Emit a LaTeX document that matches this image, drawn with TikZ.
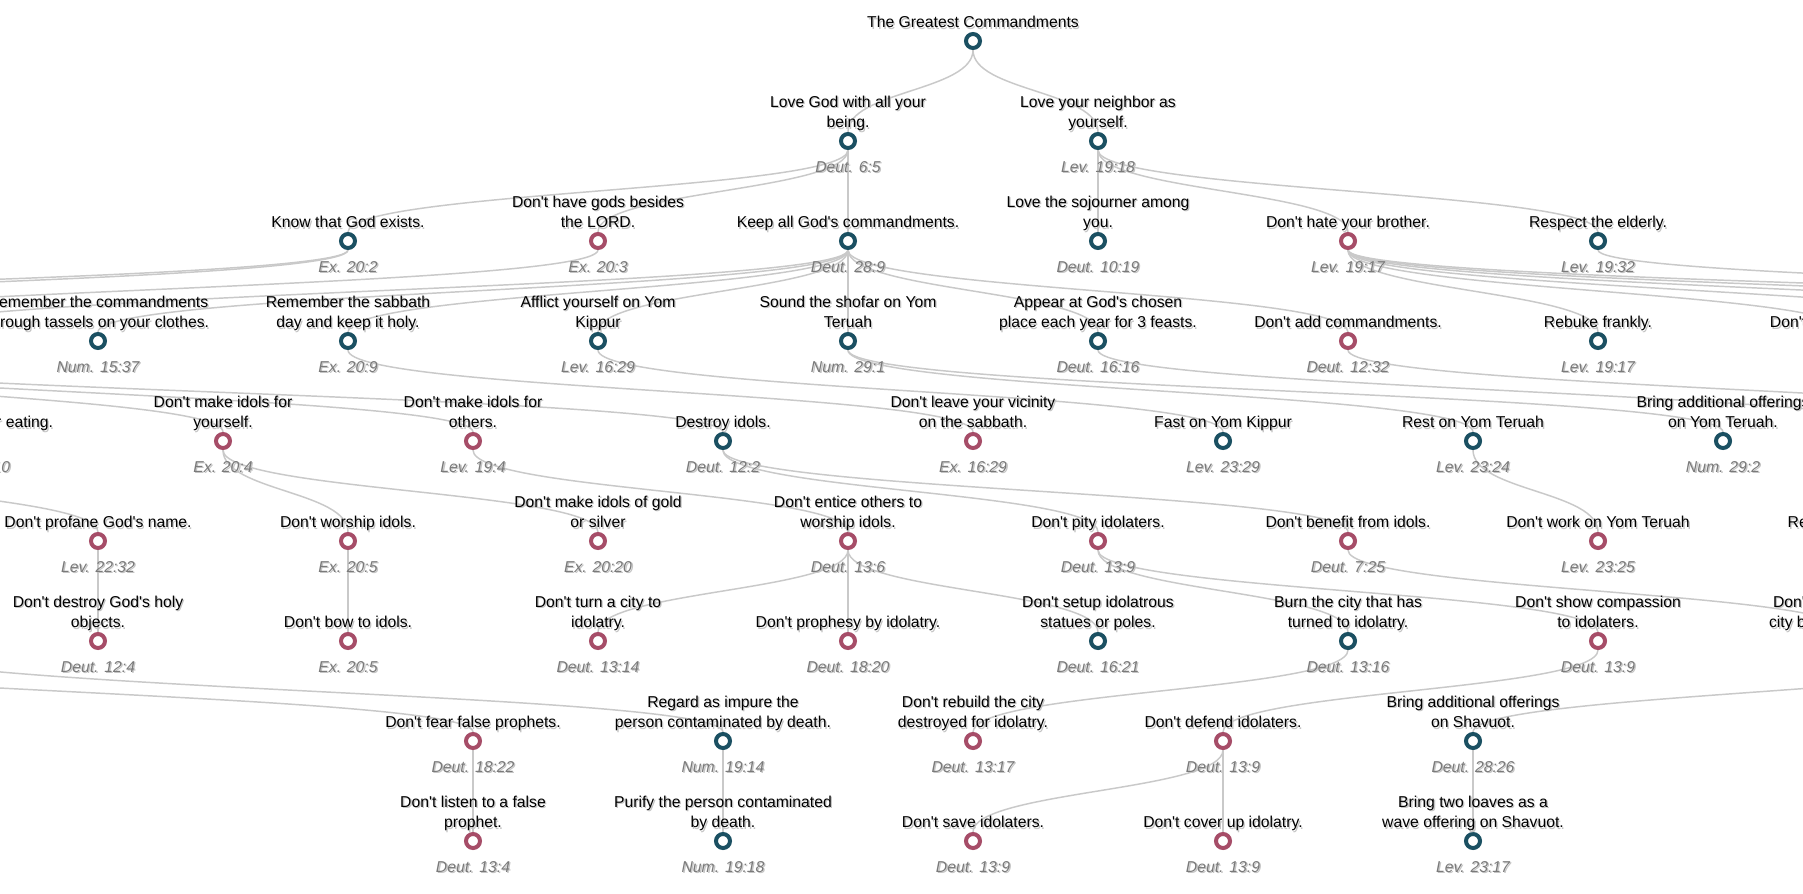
\documentclass[tikz,border=0pt]{standalone}
\usepackage{fontspec}
\newfontfamily\lbfont{Liberation Sans}
\definecolor{tealc}{HTML}{1B5062}
\definecolor{rosec}{HTML}{A64D68}
\definecolor{linec}{HTML}{C9C9C9}
\definecolor{refc}{HTML}{7A7A7A}
\definecolor{shc}{HTML}{C4C4C4}
\pgfdeclarelayer{bg}
\pgfdeclarelayer{edges}
\pgfsetlayers{bg,edges,main}
\newcommand{\cmd}[6]{%
  \node[cmdot=#4] (#1) at (#2,#3) {};
  \node[lbl, text=shc] (#1-ts) at (#2+1.3,#3-11.7) {#5};
  \node[lbl] (#1-t) at (#2,#3-13) {#5};
  \node[refl, text=shc] (#1-rs) at (#2+1.3,#3+32.3) {#6};
  \node[refl] (#1-r) at (#2,#3+31) {#6};}
\newcommand{\lnk}[2]{\draw[lnkline] (#1) .. controls +(0,50) and +(0,-50) .. (#2);}
\begin{document}
\begin{tikzpicture}[x=0.75pt,y=-0.75pt,
  cmdot/.style={circle, draw=#1, fill=white, line width=3pt, minimum size=10.5pt, inner sep=0pt},
  lbl/.style={anchor=south, inner sep=0pt, text depth=0pt, align=center, font=\lbfont\fontsize{11.8}{15.2}\selectfont, text=black},
  refl/.style={anchor=base, inner sep=0pt, font=\lbfont\itshape\fontsize{11.8}{15.2}\selectfont, text=refc},
  lnkline/.style={draw=linec, line width=1.1pt}]
\useasboundingbox (0,0) rectangle (1803,893);
\begin{pgfonlayer}{bg}\fill[white] (0,0) rectangle (1803,893);\end{pgfonlayer}
% row 0
\node[cmdot=tealc] (root) at (973,41) {};
\node[lbl, text=shc] (root-ts) at (974.3,29.3) {The Greatest Commandments};
\node[lbl] (root-t) at (973,28) {The Greatest Commandments};
% row 1
\cmd{lovegod}{848}{141}{tealc}{Love God with all your\\being.}{Deut. 6:5}
\cmd{loveneigh}{1098}{141}{tealc}{Love your neighbor as\\yourself.}{Lev. 19:18}
% row 2
\cmd{knowgod}{348}{241}{tealc}{Know that God exists.}{Ex. 20:2}
\cmd{nogods}{598}{241}{rosec}{Don't have gods besides\\the LORD.}{Ex. 20:3}
\cmd{keepall}{848}{241}{tealc}{Keep all God's commandments.}{Deut. 28:9}
\cmd{sojourn}{1098}{241}{tealc}{Love the sojourner among\\you.}{Deut. 10:19}
\cmd{nohate}{1348}{241}{rosec}{Don't hate your brother.}{Lev. 19:17}
\cmd{elderly}{1598}{241}{tealc}{Respect the elderly.}{Lev. 19:32}
% row 3
\cmd{tassels}{98}{341}{tealc}{Remember the commandments\\through tassels on your clothes.}{Num. 15:37}
\cmd{sabbath}{348}{341}{tealc}{Remember the sabbath\\day and keep it holy.}{Ex. 20:9}
\cmd{afflict}{598}{341}{tealc}{Afflict yourself on Yom\\Kippur}{Lev. 16:29}
\cmd{shofar}{848}{341}{tealc}{Sound the shofar on Yom\\Teruah}{Num. 29:1}
\cmd{appear}{1098}{341}{tealc}{Appear at God's chosen\\place each year for 3 feasts.}{Deut. 16:16}
\cmd{noadd}{1348}{341}{rosec}{Don't add commandments.}{Deut. 12:32}
\cmd{rebuke}{1598}{341}{tealc}{Rebuke frankly.}{Lev. 19:17}
\cmd{revenge}{1848}{341}{rosec}{Don't take vengeance.}{Lev. 19:18}
% row 4
\cmd{blessgod}{-27}{441}{tealc}{Bless God after eating.}{Deut. 8:10}
\cmd{idolself}{223}{441}{rosec}{Don't make idols for\\yourself.}{Ex. 20:4}
\cmd{idolothers}{473}{441}{rosec}{Don't make idols for\\others.}{Lev. 19:4}
\cmd{destroy}{723}{441}{tealc}{Destroy idols.}{Deut. 12:2}
\cmd{noleave}{973}{441}{rosec}{Don't leave your vicinity\\on the sabbath.}{Ex. 16:29}
\cmd{fastyk}{1223}{441}{tealc}{Fast on Yom Kippur}{Lev. 23:29}
\cmd{restyt}{1473}{441}{tealc}{Rest on Yom Teruah}{Lev. 23:24}
\cmd{offeryt}{1723}{441}{tealc}{Bring additional offerings\\on Yom Teruah.}{Num. 29:2}
% row 5
\cmd{profane}{98}{541}{rosec}{Don't profane God's name.}{Lev. 22:32}
\cmd{worship}{348}{541}{rosec}{Don't worship idols.}{Ex. 20:5}
\cmd{gold}{598}{541}{rosec}{Don't make idols of gold\\or silver}{Ex. 20:20}
\cmd{entice}{848}{541}{rosec}{Don't entice others to\\worship idols.}{Deut. 13:6}
\cmd{pity}{1098}{541}{rosec}{Don't pity idolaters.}{Deut. 13:9}
\cmd{benefit}{1348}{541}{rosec}{Don't benefit from idols.}{Deut. 7:25}
\cmd{workyt}{1598}{541}{rosec}{Don't work on Yom Teruah}{Lev. 23:25}
\cmd{restshav}{1848}{541}{tealc}{Rest on Shavuot.}{Lev. 23:21}
% row 6
\cmd{holy}{98}{641}{rosec}{Don't destroy God's holy\\objects.}{Deut. 12:4}
\cmd{bow}{348}{641}{rosec}{Don't bow to idols.}{Ex. 20:5}
\cmd{turncity}{598}{641}{rosec}{Don't turn a city to\\idolatry.}{Deut. 13:14}
\cmd{prophesy}{848}{641}{rosec}{Don't prophesy by idolatry.}{Deut. 18:20}
\cmd{setup}{1098}{641}{tealc}{Don't setup idolatrous\\statues or poles.}{Deut. 16:21}
\cmd{burn}{1348}{641}{tealc}{Burn the city that has\\turned to idolatry.}{Deut. 13:16}
\cmd{compassion}{1598}{641}{rosec}{Don't show compassion\\to idolaters.}{Deut. 13:9}
\cmd{cityb}{1848}{641}{rosec}{Don't benefit from the\\city burned for idolatry.}{Deut. 13:17}
% row 7
\cmd{fearproph}{473}{741}{rosec}{Don't fear false prophets.}{Deut. 18:22}
\cmd{impure}{723}{741}{tealc}{Regard as impure the\\person contaminated by death.}{Num. 19:14}
\cmd{rebuild}{973}{741}{rosec}{Don't rebuild the city\\destroyed for idolatry.}{Deut. 13:17}
\cmd{defend}{1223}{741}{rosec}{Don't defend idolaters.}{Deut. 13:9}
\cmd{offershav}{1473}{741}{tealc}{Bring additional offerings\\on Shavuot.}{Deut. 28:26}
% row 8
\cmd{listen}{473}{841}{rosec}{Don't listen to a false\\prophet.}{Deut. 13:4}
\cmd{purify}{723}{841}{tealc}{Purify the person contaminated\\by death.}{Num. 19:18}
\cmd{save}{973}{841}{rosec}{Don't save idolaters.}{Deut. 13:9}
\cmd{cover}{1223}{841}{rosec}{Don't cover up idolatry.}{Deut. 13:9}
\cmd{loaves}{1473}{841}{tealc}{Bring two loaves as a\\wave offering on Shavuot.}{Lev. 23:17}
% off-frame ends
\coordinate (oL3a) at (-1152,341);
\coordinate (oL3b) at (-902,341);
\coordinate (oL3c) at (-152,341);
\coordinate (oL3d) at (-402,341);
\coordinate (oL4) at (-277,441);
\coordinate (oL6a) at (-402,641);
\coordinate (oL6b) at (-152,641);
\coordinate (oR3a) at (2098,341);
\coordinate (oR3b) at (2348,341);
\coordinate (oR3c) at (2598,341);
\coordinate (oR3d) at (2848,341);
\coordinate (oR3e) at (3098,341);
\coordinate (oR4a) at (1973,441);
\coordinate (oR4b) at (2223,441);
\coordinate (oR6) at (2098,641);
\begin{pgfonlayer}{edges}
\lnk{root}{lovegod}\lnk{root}{loveneigh}
\lnk{lovegod}{knowgod}\lnk{lovegod}{nogods}\lnk{lovegod}{keepall}
\lnk{loveneigh}{sojourn}\lnk{loveneigh}{nohate}\lnk{loveneigh}{elderly}
\lnk{knowgod}{oL3a}\lnk{knowgod}{oL3b}
\lnk{nogods}{oL3d}
\lnk{keepall}{oL3c}\lnk{keepall}{tassels}\lnk{keepall}{sabbath}\lnk{keepall}{afflict}
\lnk{keepall}{shofar}\lnk{keepall}{appear}\lnk{keepall}{noadd}
\lnk{nohate}{rebuke}\lnk{nohate}{revenge}\lnk{nohate}{oR3a}\lnk{nohate}{oR3b}
\lnk{nohate}{oR3c}\lnk{nohate}{oR3d}
\lnk{elderly}{oR3e}
\lnk{oL3c}{blessgod}\lnk{oL3c}{oL4}
\lnk{oL3d}{idolself}\lnk{oL3d}{idolothers}\lnk{oL3d}{destroy}
\lnk{sabbath}{noleave}\lnk{afflict}{fastyk}
\lnk{shofar}{restyt}\lnk{shofar}{offeryt}
\lnk{appear}{oR4a}\lnk{noadd}{oR4b}
\lnk{oR4a}{restshav}
\lnk{oL4}{profane}
\lnk{idolself}{worship}\lnk{idolself}{gold}
\lnk{idolothers}{entice}
\lnk{destroy}{pity}\lnk{destroy}{benefit}
\lnk{restyt}{workyt}
\lnk{profane}{holy}\lnk{worship}{bow}
\lnk{entice}{turncity}\lnk{entice}{prophesy}\lnk{entice}{setup}
\lnk{pity}{burn}\lnk{pity}{compassion}
\lnk{benefit}{cityb}
\lnk{oL6a}{fearproph}\lnk{oL6b}{impure}
\lnk{burn}{rebuild}\lnk{compassion}{defend}
\lnk{oR6}{offershav}
\lnk{fearproph}{listen}\lnk{impure}{purify}
\lnk{defend}{save}\lnk{defend}{cover}
\lnk{offershav}{loaves}
\end{pgfonlayer}
\end{tikzpicture}
\end{document}
